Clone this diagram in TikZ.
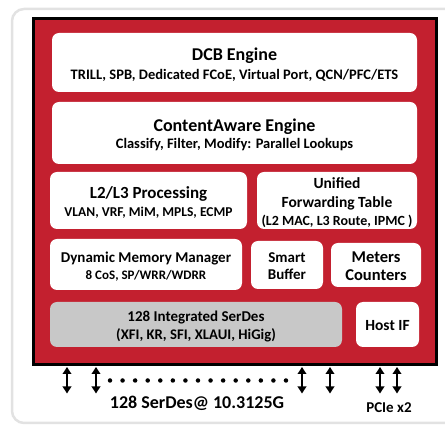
\documentclass[tikz,border=0pt]{standalone}
\usepackage{fontspec}
\setmainfont{Carlito}
\usetikzlibrary{arrows.meta}
\definecolor{chipred}{HTML}{C3202F}
\definecolor{serdesgray}{HTML}{C8C8C8}
\definecolor{framegray}{HTML}{E2E2E2}
\newcommand{\fs}[1]{\fontsize{#1}{#1}\selectfont}
\tikzset{
  blk/.style={draw=none, fill=white, rounded corners=7pt, inner sep=0pt, align=center, font=\bfseries, text=black},
  pin/.style={line width=2pt, {Triangle[length=7pt,width=8.5pt]}-{Triangle[length=7pt,width=8.5pt]}},
  dotmark/.style={circle, fill=black, inner sep=0pt, minimum size=4.5pt},
  lbl/.style={font=\bfseries, inner sep=0pt, text=black}
}
\begin{document}
\begin{tikzpicture}[x=1pt,y=-1pt]
\useasboundingbox (0,0) rectangle (445,427);
% outer frame
\draw[framegray, line width=2.5pt, rounded corners=12pt] (12,9) rectangle (470,423);
% chip
\node[draw=black, line width=2.8pt, fill=chipred, minimum width=403pt, minimum height=346pt, inner sep=0pt] (chip) at (235,191.5) {};
% blocks
\node[blk, minimum width=365pt, minimum height=59pt] (dcb) at (234.5,62.5) {};
\node[blk, minimum width=365pt, minimum height=62pt] (ca) at (234.5,133) {};
\node[blk, minimum width=197pt, minimum height=57pt] (l23) at (148.5,200.5) {};
\node[blk, minimum width=160pt, minimum height=57pt] (uft) at (337,200.5) {};
\node[blk, minimum width=192pt, minimum height=51pt] (dmm) at (146,264.5) {};
\node[blk, minimum width=72pt, minimum height=48pt] (sb) at (287,265) {};
\node[blk, minimum width=90pt, minimum height=44pt] (mc) at (376,265) {};
\node[blk, fill=serdesgray, minimum width=292pt, minimum height=45pt] (sd) at (196,324.5) {};
\node[blk, minimum width=63pt, minimum height=45pt] (host) at (387.5,324.5) {};
% texts
\node[lbl, font=\bfseries\fs{18}] (dcbT) at (234.5,56) {DCB Engine};
\node[lbl, font=\bfseries\fs{14.5}] (dcbS) at (234.5,75.5) {TRILL, SPB, Dedicated FCoE, Virtual Port, QCN/PFC/ETS};
\node[lbl, font=\bfseries\fs{18}] (caT) at (234.5,126.5) {ContentAware Engine};
\node[lbl, font=\bfseries\fs{14.5}] (caS) at (234.5,144.5) {Classify, Filter, Modify: Parallel Lookups};
\node[lbl, font=\bfseries\fs{17}] (l23T) at (148.5,193.5) {L2/L3 Processing};
\node[lbl, font=\bfseries\fs{13.5}] (l23S) at (148.5,212.5) {VLAN, VRF, MiM, MPLS, ECMP};
\node[lbl, font=\bfseries\fs{15.5}] (uftA) at (337,183.5) {Unified};
\node[lbl, font=\bfseries\fs{15.5}] (uftB) at (337,203.5) {Forwarding Table};
\node[lbl, font=\bfseries\fs{14}] (uftC) at (337,221.5) {(L2 MAC, L3 Route, IPMC )};
\node[lbl, font=\bfseries\fs{15}] (dmmT) at (146,258.5) {Dynamic Memory Manager};
\node[lbl, font=\bfseries\fs{13}] (dmmS) at (146,275.5) {8 CoS, SP/WRR/WDRR};
\node[lbl, font=\bfseries\fs{15}] (sbA) at (287,257.5) {Smart};
\node[lbl, font=\bfseries\fs{15}] (sbB) at (287,274.5) {Buffer};
\node[lbl, font=\bfseries\fs{16.5}] (mcA) at (376,257.5) {Meters};
\node[lbl, font=\bfseries\fs{16.5}] (mcB) at (376,275.5) {Counters};
\node[lbl, font=\bfseries\fs{15}] (sdA) at (196,317.5) {128 Integrated SerDes};
\node[lbl, font=\bfseries\fs{14.7}] (sdB) at (196,335.5) {(XFI, KR, SFI, XLAUI, HiGig)};
\node[lbl, font=\bfseries\fs{15.5}] (hostT) at (387.5,325.5) {Host IF};
% pins
\foreach \px/\nm in {67/p1, 96/p2, 302/p3, 330/p4, 380/p5, 397/p6} {
  \coordinate (\nm t) at (\px,367);
  \coordinate (\nm b) at (\px,393.5);
  \draw[pin] (\nm t) -- (\nm b);
}
\foreach \i in {0,...,14} {
  \node[dotmark] (d\i) at ({110+\i*12.57},380.5) {};
}
\node[lbl, font=\bfseries\fs{18}] (serlbl) at (197,403.5) {128 SerDes@ 10.3125G};
\node[lbl, font=\bfseries\fs{15}] (pcie) at (389,407.5) {PCIe x2};
\end{tikzpicture}
\end{document}
